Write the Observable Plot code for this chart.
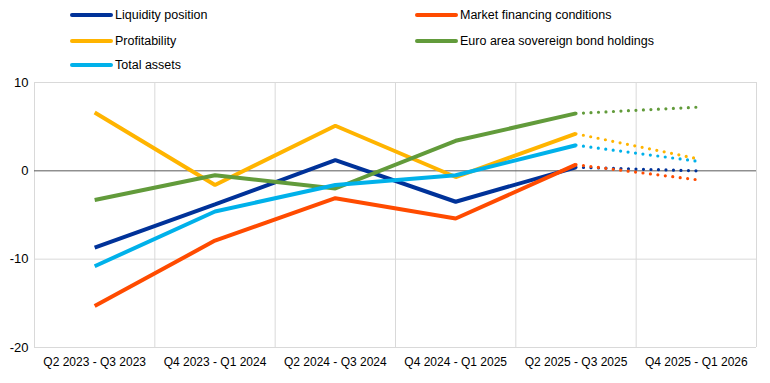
<!DOCTYPE html>
<html>
<head>
<meta charset="utf-8">
<script src="https://cdn.jsdelivr.net/npm/d3@7"></script>
<script src="https://cdn.jsdelivr.net/npm/@observablehq/plot@0.6"></script>
<style>
  html, body { margin: 0; padding: 0; background: #fff; }
  body { width: 770px; height: 383px; overflow: hidden; font-family: "Liberation Sans Narrow", "Arial Narrow", "Liberation Sans", Arial, sans-serif; }
  #legend { position: relative; height: 75px; width: 770px; font-size: 12.5px; color: #000; }
  .item { position: absolute; display: flex; align-items: center; white-space: nowrap; }
  .sw { width: 43px; height: 4px; border-radius: 2px; margin-right: 2px; }
</style>
</head>
<body>
<div id="legend"></div>
<div id="chart"></div>
<script>
const categories = ["Q2 2023 - Q3 2023", "Q4 2023 - Q1 2024", "Q2 2024 - Q3 2024", "Q4 2024 - Q1 2025", "Q2 2025 - Q3 2025", "Q4 2025 - Q1 2026"];
const seriesNames = ["Liquidity position", "Market financing conditions", "Profitability", "Euro area sovereign bond holdings", "Total assets"];
const seriesColors = ["#003299", "#FF4B00", "#FFB400", "#629B3B", "#00B1EA"];
const liquidity = [-8.7, -3.8, 1.2, -3.5, 0.4, 0.0];
const marketFinancing = [-15.3, -7.9, -3.1, -5.4, 0.7, -1.0];
const profitability = [6.6, -1.6, 5.1, -0.7, 4.2, 1.4];
const sovereignBonds = [-3.3, -0.5, -2.0, 3.4, 6.5, 7.2];
const totalAssets = [-10.8, -4.6, -1.6, -0.5, 2.9, 1.1];
const yTicks = [-20, -10, 0, 10];
const lastActual = 4; // index of last solid point; after it values are expectations (dotted)

const seriesValues = [liquidity, marketFinancing, profitability, sovereignBonds, totalAssets];

// legend
const legendPos = [[70, 16], [415, 16], [70, 42], [415, 42], [70, 66]];
const legend = document.getElementById("legend");
seriesNames.forEach((name, i) => {
  const d = document.createElement("div");
  d.className = "item";
  d.style.left = legendPos[i][0] + "px";
  d.style.top = (legendPos[i][1] - 8) + "px";
  d.innerHTML = `<span class="sw" style="background:${seriesColors[i]}"></span><span>${name}</span>`;
  legend.appendChild(d);
});

const solid = [], dotted = [];
seriesValues.forEach((vals, s) => {
  vals.forEach((v, i) => {
    if (i <= lastActual) solid.push({series: seriesNames[s], i: i + 0.5, v});
    if (i >= lastActual) dotted.push({series: seriesNames[s], i: i + 0.5, v});
  });
});

const colorScale = {domain: seriesNames, range: seriesColors};

const chart = Plot.plot({
  width: 770,
  height: 308,
  marginTop: 7,
  marginBottom: 36,
  marginLeft: 34,
  marginRight: 14,
  style: {fontFamily: "'Liberation Sans Narrow', 'Arial Narrow', 'Liberation Sans', Arial, sans-serif", fontSize: "12px", color: "#000", background: "#fff"},
  x: {type: "linear", domain: [0, categories.length], axis: null},
  y: {domain: [-20, 10], axis: null},
  color: colorScale,
  marks: [
    Plot.ruleX(d3.range(categories.length + 1), {stroke: "#d9d9d9", strokeWidth: 1}),
    Plot.ruleY(yTicks.filter(t => t !== 0), {stroke: "#d9d9d9", strokeWidth: 1}),
    Plot.ruleY([0], {stroke: "#595959", strokeWidth: 1}),
    Plot.axisX(categories.map((c, i) => i + 0.5), {label: null, tickSize: 0, tickPadding: 10, tickFormat: d => categories[Math.round(d - 0.5)], fontSize: 12}),
    Plot.axisY(yTicks, {label: null, tickSize: 0, tickPadding: 6, tickFormat: d => String(d), fontSize: 13}),
    Plot.line(dotted, {x: "i", y: "v", z: "series", stroke: "series", strokeWidth: 3.2, strokeDasharray: "0 7.5", strokeLinecap: "round"}),
    Plot.line(solid, {x: "i", y: "v", z: "series", stroke: "series", strokeWidth: 4, strokeLinejoin: "miter", strokeLinecap: "butt"})
  ]
});
document.getElementById("chart").appendChild(chart);
</script>
</body>
</html>
